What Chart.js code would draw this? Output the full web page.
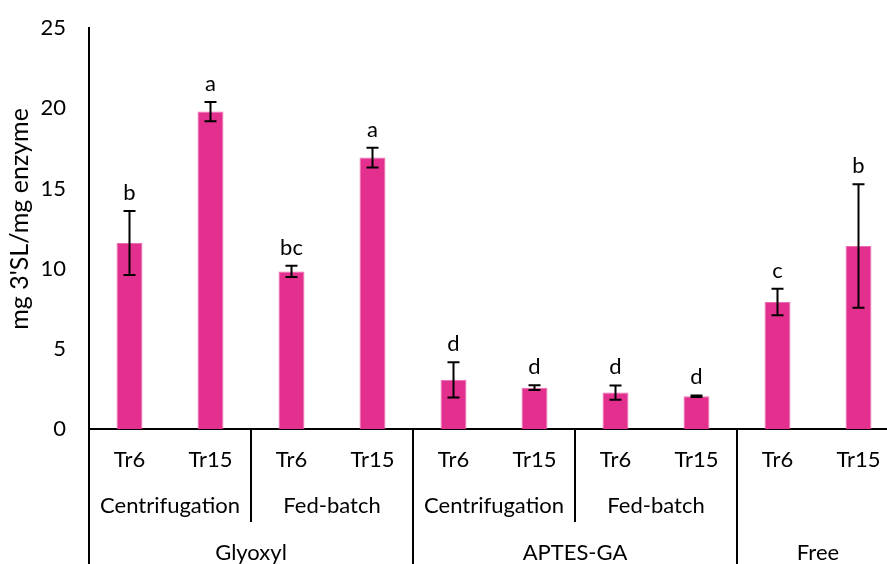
<!DOCTYPE html>
<html>
<head>
<meta charset="utf-8">
<script src="https://cdn.jsdelivr.net/npm/chart.js@4.4.0/dist/chart.umd.min.js"></script>
<style>
  body { margin: 0; background: #fff; }
  #wrap { width: 887px; height: 564px; overflow: hidden; }
</style>
</head>
<body>
<div id="wrap"><canvas id="chart" width="899" height="564"></canvas></div>
<script>
const categories = ["Tr6", "Tr15", "Tr6", "Tr15", "Tr6", "Tr15", "Tr6", "Tr15", "Tr6", "Tr15"];
const methods = ["Centrifugation", "Centrifugation", "Fed-batch", "Fed-batch",
                 "Centrifugation", "Centrifugation", "Fed-batch", "Fed-batch", "", ""];
const supports = ["Glyoxyl", "Glyoxyl", "Glyoxyl", "Glyoxyl",
                  "APTES-GA", "APTES-GA", "APTES-GA", "APTES-GA", "Free", "Free"];
const means = [11.6, 19.8, 9.83, 16.93, 3.07, 2.58, 2.27, 2.04, 7.92, 11.42];
const errors = [2.0, 0.6, 0.35, 0.62, 1.1, 0.15, 0.45, 0.05, 0.83, 3.85];
const letters = ["b", "a", "bc", "a", "d", "d", "d", "d", "c", "b"];
const yTitle = "mg 3'SL/mg enzyme";

const FONT = "Lato, 'Liberation Sans', sans-serif";
const SIZE = 22;

// group consecutive equal labels
function groupRuns(list) {
  const out = [];
  list.forEach((v, i) => {
    const last = out[out.length - 1];
    if (last && last.label === v) last.end = i;
    else out.push({ label: v, start: i, end: i });
  });
  return out;
}

const annotate = {
  id: "annotate",
  afterDatasetsDraw(chart) {
    const { ctx, chartArea, scales: { x, y } } = chart;
    const half = (x.getPixelForValue(1) - x.getPixelForValue(0)) / 2;
    ctx.save();
    ctx.strokeStyle = "#000";
    ctx.fillStyle = "#000";
    ctx.lineWidth = 2;
    ctx.textAlign = "center";
    ctx.font = SIZE + "px " + FONT;

    // error bars + significance letters
    means.forEach((m, i) => {
      const px = x.getPixelForValue(i);
      const top = y.getPixelForValue(m + errors[i]);
      const bot = y.getPixelForValue(m - errors[i]);
      ctx.beginPath();
      ctx.moveTo(px, top); ctx.lineTo(px, bot);
      ctx.moveTo(px - 6, top); ctx.lineTo(px + 6, top);
      ctx.moveTo(px - 6, bot); ctx.lineTo(px + 6, bot);
      ctx.stroke();
      ctx.textBaseline = "alphabetic";
      ctx.fillText(letters[i], px, top - 11);
    });

    // multi-level category axis
    const base = chartArea.bottom;
    ctx.textBaseline = "middle";
    categories.forEach((c, i) => ctx.fillText(c, x.getPixelForValue(i), base + 31));

    groupRuns(methods.map((m, i) => m + "|" + supports[i])).forEach(g => {
      const left = x.getPixelForValue(g.start) - half;
      const right = x.getPixelForValue(g.end) + half;
      const label = g.label.split("|")[0];
      if (label) ctx.fillText(label, (left + right) / 2, base + 77);
      ctx.beginPath();
      ctx.moveTo(left, base); ctx.lineTo(left, base + 93);
      ctx.moveTo(right, base); ctx.lineTo(right, base + 93);
      ctx.stroke();
    });

    groupRuns(supports).forEach(g => {
      const left = x.getPixelForValue(g.start) - half;
      const right = x.getPixelForValue(g.end) + half;
      ctx.fillText(g.label, (left + right) / 2, base + 124);
      ctx.beginPath();
      ctx.moveTo(left, base); ctx.lineTo(left, chart.height);
      ctx.moveTo(right, base); ctx.lineTo(right, chart.height);
      ctx.stroke();
    });

    // y axis title (sits a bit above the plot centre, as in the original)
    ctx.translate(20, y.getPixelForValue(13.1));
    ctx.rotate(-Math.PI / 2);
    ctx.font = "25px " + FONT;
    ctx.fillText(yTitle, 0, 0);
    ctx.restore();
  }
};

new Chart(document.getElementById("chart"), {
  type: "bar",
  data: {
    labels: categories,
    datasets: [{
      data: means,
      backgroundColor: "#E3308F",
      borderColor: "#EA6AAE",
      borderWidth: 1,
      barPercentage: 0.32,
      categoryPercentage: 1
    }]
  },
  options: {
    responsive: false,
    animation: false,
    layout: { padding: { top: 24, left: 0, right: 0, bottom: 0 } },
    plugins: { legend: { display: false }, tooltip: { enabled: false } },
    scales: {
      x: {
        grid: { display: false },
        border: { display: true, color: "#000", width: 2 },
        ticks: { display: false },
        afterFit(scale) { scale.height = 135; }
      },
      y: {
        min: 0,
        max: 25,
        grid: { display: false },
        border: { display: true, color: "#000", width: 2 },
        ticks: {
          stepSize: 5,
          padding: 15,
          color: "#000",
          font: { family: FONT, size: SIZE }
        },
        afterFit(scale) { scale.width = 89; }
      }
    }
  },
  plugins: [annotate]
});
</script>
</body>
</html>
